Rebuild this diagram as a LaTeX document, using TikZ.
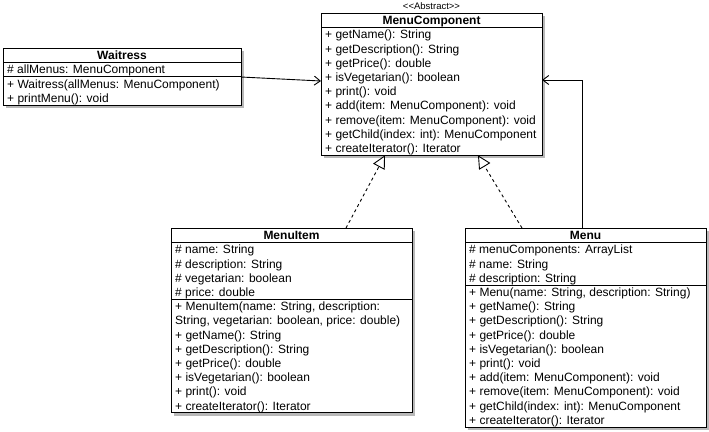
\documentclass[tikz,border=0pt]{standalone}
\usepackage{fontspec}
\setmainfont{Liberation Sans}
\usetikzlibrary{calc,arrows.meta}
\tikzset{
  box/.style={draw=black, fill=white, line width=1pt, anchor=north west, inner sep=0pt, outer sep=0pt},
  shadowfill/.style={fill=black, fill opacity=0.28},
  txt/.style={anchor=base west, inner sep=0pt, font=\fontsize{12}{14}\selectfont},
  hdr/.style={anchor=base, inner sep=0pt, font=\fontsize{12}{14}\selectfont\bfseries},
  stereo/.style={anchor=base, inner sep=0pt, font=\fontsize{9.5}{11}\selectfont},
  sepline/.style={line width=1pt},
  assoc/.style={line width=0.9pt, -{Straight Barb[length=6pt,width=9pt,line width=0.9pt]}},
  realiz/.style={line width=0.9pt, dash pattern=on 3pt off 3pt, -{Triangle[length=13pt,width=13pt,fill=white,line width=0.9pt,sep=0pt]}}
}
\newcommand\umlbox[6]{%
  \pgfmathsetmacro\umlh{14.5+14.2*#5}%
  \fill[shadowfill] (#2+3,#3+3) rectangle ++(#4,\umlh);
  \node[box, minimum width=#4pt, minimum height=\umlh pt] (#1) at (#2,#3) {};
  \node[hdr] (#1-t) at ($(#1.north)+(0,11.6)$) {#6};
  \draw[sepline] ($(#1.north west)+(0,14.5)$) -- ($(#1.north east)+(0,14.5)$);
}
\newcommand\umlrow[3]{%
  \node[txt] (#1-r#2) at ($(#1.north west)+(4,{25.9+14.2*(#2-1)})$) {#3};
}
\newcommand\umlsep[2]{%
  \draw[sepline] ($(#1.north west)+(0,{14.5+14.2*#2})$) -- ($(#1.north east)+(0,{14.5+14.2*#2})$);
}
\begin{document}
\begin{tikzpicture}[x=1pt,y=-1pt]
\useasboundingbox[fill=white] (0,0) rectangle (709,431);

% MenuComponent
\umlbox{mc}{321}{13}{221}{9}{MenuComponent}
\node[stereo] (mc-s) at ($(mc.north)+(0,-3.5)$) {<{}<Abstract>{}>};
\umlrow{mc}{1}{+ getName(): String}
\umlrow{mc}{2}{+ getDescription(): String}
\umlrow{mc}{3}{+ getPrice(): double}
\umlrow{mc}{4}{+ isVegetarian(): boolean}
\umlrow{mc}{5}{+ print(): void}
\umlrow{mc}{6}{+ add(item: MenuComponent): void}
\umlrow{mc}{7}{+ remove(item: MenuComponent): void}
\umlrow{mc}{8}{+ getChild(index: int): MenuComponent}
\umlrow{mc}{9}{+ createIterator(): Iterator}

% Waitress
\umlbox{w}{3}{48}{238}{3}{Waitress}
\umlrow{w}{1}{\# allMenus: MenuComponent}
\umlsep{w}{1}
\umlrow{w}{2}{+ Waitress(allMenus: MenuComponent)}
\umlrow{w}{3}{+ printMenu(): void}

% MenuItem
\umlbox{mi}{171}{228}{241}{12}{MenuItem}
\umlrow{mi}{1}{\# name: String}
\umlrow{mi}{2}{\# description: String}
\umlrow{mi}{3}{\# vegetarian: boolean}
\umlrow{mi}{4}{\# price: double}
\umlsep{mi}{4}
\umlrow{mi}{5}{+ MenuItem(name: String, description:}
\umlrow{mi}{6}{String, vegetarian: boolean, price: double)}
\umlrow{mi}{7}{+ getName(): String}
\umlrow{mi}{8}{+ getDescription(): String}
\umlrow{mi}{9}{+ getPrice(): double}
\umlrow{mi}{10}{+ isVegetarian(): boolean}
\umlrow{mi}{11}{+ print(): void}
\umlrow{mi}{12}{+ createIterator(): Iterator}

% Menu
\umlbox{m}{465}{228}{241}{13}{Menu}
\umlrow{m}{1}{\# menuComponents: ArrayList}
\umlrow{m}{2}{\# name: String}
\umlrow{m}{3}{\# description: String}
\umlsep{m}{3}
\umlrow{m}{4}{+ Menu(name: String, description: String)}
\umlrow{m}{5}{+ getName(): String}
\umlrow{m}{6}{+ getDescription(): String}
\umlrow{m}{7}{+ getPrice(): double}
\umlrow{m}{8}{+ isVegetarian(): boolean}
\umlrow{m}{9}{+ print(): void}
\umlrow{m}{10}{+ add(item: MenuComponent): void}
\umlrow{m}{11}{+ remove(item: MenuComponent): void}
\umlrow{m}{12}{+ getChild(index: int): MenuComponent}
\umlrow{m}{13}{+ createIterator(): Iterator}

% connectors
\draw[assoc] ($(w.north east)+(0,29)$) -- ($(mc.north west)+(0,68)$);
\draw[assoc] ($(m.north west)+(117,0)$) |- ($(mc.north east)+(0,67)$);
\draw[realiz] ($(mi.north west)+(175,0)$) -- ($(mc.south west)+(64,0)$);
\draw[realiz] ($(m.north west)+(57,0)$) -- ($(mc.south west)+(157,0)$);
\end{tikzpicture}
\end{document}
